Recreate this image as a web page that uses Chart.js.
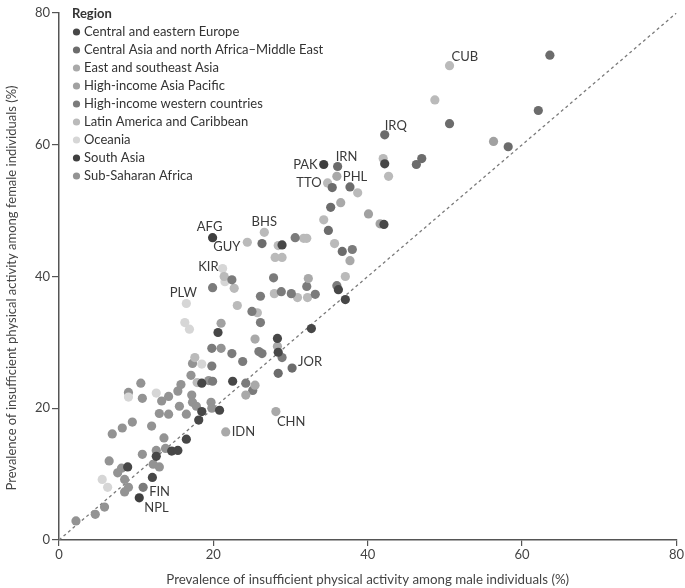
<!DOCTYPE html>
<html>
<head>
<meta charset="utf-8">
<script src="https://cdn.jsdelivr.net/npm/chart.js@4"></script>
<style>
html,body{margin:0;padding:0;background:#fff;}
#wrap{position:relative;width:685px;height:588px;}
</style>
</head>
<body>
<div id="wrap"><canvas id="c" width="685" height="588"></canvas></div>
<script>
// ---- Data (male %, female %) ----
const regionNames = [
  'Central and eastern Europe',
  'Central Asia and north Africa\u2013Middle East',
  'East and southeast Asia',
  'High-income Asia Pacific',
  'High-income western countries',
  'Latin America and Caribbean',
  'Oceania',
  'South Asia',
  'Sub-Saharan Africa'
];
const regionColors = ['#474747','#6c6c6c','#a9a9a9','#a1a1a1','#7b7b7b','#bababa','#d6d6d6','#3f3f3f','#939393'];

const ceeMale   = [42.2,42.1,36.2,37.1,32.7,28.9,20.6,28.3,28.4,22.5,18.5,18.5,20.8,18.1,16.5,14.6,15.4,12.6,12.1,8.9];
const ceeFemale = [57.1,47.9,38.0,36.5,32.1,44.8,31.5,30.6,28.5,24.1,23.8,19.5,19.7,18.2,15.3,13.5,13.6,12.7,9.5,11.1];

const canMale   = [63.6,50.6,62.1,58.2,42.2,46.3,47.0,36.1,35.4,37.7,35.2,34.9,36.7,30.2,26.3,28.4];
const canFemale = [73.6,63.2,65.2,59.7,61.5,57.0,57.9,56.7,53.5,53.6,50.5,47.0,43.8,26.1,45.0,25.3];

const eseaMale   = [36.0,21.6,28.1,36.5,37.7,25.4,24.2,32.3,28.3,25.4];
const eseaFemale = [55.2,16.4,19.5,51.2,42.4,23.5,22.0,39.7,29.4,30.5];

const hiapMale   = [56.3,40.1,41.6,21.0];
const hiapFemale = [60.5,49.5,48.0,32.9];

const hiwMale   = [38.0,30.6,36.0,27.8,32.1,33.2,30.1,28.8,26.1,22.4,19.9,25.0,26.1,25.9,26.3,28.9,23.8,22.4,19.8,24.2,25.1,10.9,19.8,19.9];
const hiwFemale = [44.1,45.9,38.6,39.8,38.5,37.3,37.4,37.7,37.0,39.5,38.3,34.7,33.0,28.6,28.3,27.7,27.1,28.3,29.1,23.8,22.7,8.0,26.4,24.1];

const lacMale   = [50.6,48.7,42.0,42.7,34.8,38.7,34.3,35.7,37.1,26.6,24.4,28.4,31.7,32.1,28.0,28.9,32.2,30.9,27.9,25.7,23.1,21.4,22.7,17.9,17.6];
const lacFemale = [72.0,66.8,57.9,55.2,54.2,52.7,48.6,45.0,40.0,46.7,45.2,44.7,45.8,45.8,42.9,42.9,36.8,36.8,37.4,34.5,35.6,40.0,38.2,23.9,27.7];

const oceMale   = [21.2,16.5,21.5,16.3,16.9,5.6,6.3,12.6,9.0,18.5];
const oceFemale = [41.2,35.9,39.2,33.0,32.0,9.2,8.0,22.3,21.7,26.7];

const saMale   = [19.9,34.3,10.4];
const saFemale = [45.9,57.0,6.4];

const ssaMale   = [17.3,17.1,19.4,15.8,15.4,14.2,13.3,10.6,10.8,9.0,17.2,17.3,17.8,19.7,15.6,16.5,14.2,13.0,9.5,8.2,6.9,12.0,13.6,13.8,12.6,10.8,6.5,12.2,13.0,8.1,7.6,8.5,9.0,8.5,5.9,4.7,2.2,19.8,21.0];
const ssaFemale = [26.8,25.0,24.2,23.6,22.6,21.8,21.1,23.8,21.5,22.4,22.0,20.9,20.3,20.9,20.3,19.1,19.1,19.2,17.9,17.0,16.1,17.3,15.5,13.9,13.6,13.0,12.0,11.5,11.1,10.9,10.2,9.2,8.0,7.3,5.0,3.9,2.9,20.0,29.1];

const maleByRegion   = [ceeMale,canMale,eseaMale,hiapMale,hiwMale,lacMale,oceMale,saMale,ssaMale];
const femaleByRegion = [ceeFemale,canFemale,eseaFemale,hiapFemale,hiwFemale,lacFemale,oceFemale,saFemale,ssaFemale];

// Labelled countries
const labelCodes  = ['CUB','IRQ','IRN','PAK','PHL','TTO','BHS','AFG','GUY','KIR','PLW','JOR','CHN','IDN','FIN','NPL'];
const labelMale   = [50.6,42.2,36.1,34.3,36.0,34.8,26.6,19.9,24.4,21.2,16.5,30.2,28.1,21.6,10.9,10.4];
const labelFemale = [72.0,61.5,56.7,57.0,55.2,54.2,46.7,45.9,45.2,41.2,35.9,26.1,19.5,16.4,8.0,6.4];

const axisTicks = [0,20,40,60,80];
const diagonal = [{x:0,y:0},{x:80,y:80}];

// ---- label placement (style, not data) ----
const labelPlace = {
  CUB:[2,-9,'left'], IRQ:[0,-9,'left'], IRN:[-2,-10,'left'], PAK:[-6,0,'right'],
  PHL:[6,0,'left'], TTO:[-6,0,'right'], BHS:[0,-11,'center'], AFG:[-3,-11,'center'],
  GUY:[-7,5,'right'], KIR:[-4,-2,'right'], PLW:[-3,-11,'center'], JOR:[6,-6,'left'],
  CHN:[1,10,'left'], IDN:[6,0,'left'], FIN:[6,5,'left'], NPL:[5,10,'left']
};

const FONT = "Lato, 'Liberation Sans', sans-serif";
const yTitle = 'Prevalence of insufficient physical activity among female individuals (%)';

const datasets = regionNames.map((name,i)=>({
  type:'scatter',
  label:name,
  data: maleByRegion[i].map((m,j)=>({x:m,y:femaleByRegion[i][j]})),
  backgroundColor: regionColors[i],
  borderWidth:0,
  pointRadius:4.6,
  pointHoverRadius:4.6,
  order:1
}));
datasets.push({
  type:'line',
  label:'diag',
  data:diagonal,
  borderColor:'#7a7a7a',
  borderWidth:1.3,
  borderDash:[3,3],
  pointRadius:0,
  fill:false,
  order:10
});

const overlay = {
  id:'overlay',
  afterDatasetsDraw(chart){
    const ctx = chart.ctx;
    const xs = chart.scales.x, ys = chart.scales.y;
    ctx.save();
    // country labels
    ctx.font = "13px " + FONT;
    ctx.fillStyle = '#3a3a3a';
    ctx.textBaseline = 'middle';
    labelCodes.forEach((code,i)=>{
      const px = xs.getPixelForValue(labelMale[i]);
      const py = ys.getPixelForValue(labelFemale[i]);
      const p = labelPlace[code];
      ctx.textAlign = p[2];
      ctx.fillText(code, px+p[0], py+p[1]);
    });
    // legend
    ctx.textAlign='left';
    ctx.font = "bold 13px " + FONT;
    ctx.fillStyle = '#333';
    ctx.fillText('Region', 72, 14);
    ctx.font = "13px " + FONT;
    regionNames.forEach((n,i)=>{
      const y = 32 + i*18;
      ctx.beginPath();
      ctx.arc(76.5, y, 3.6, 0, Math.PI*2);
      ctx.fillStyle = regionColors[i];
      ctx.fill();
      ctx.fillStyle = '#333';
      ctx.fillText(n, 84, y);
    });
    // y axis title
    ctx.save();
    ctx.translate(12, 288);
    ctx.rotate(-Math.PI/2);
    ctx.textAlign='center';
    ctx.font = "13px " + FONT;
    ctx.fillStyle = '#444';
    ctx.fillText(yTitle, 0, 0);
    ctx.restore();
    ctx.restore();
  }
};

new Chart(document.getElementById('c'), {
  data:{datasets},
  options:{
    responsive:false,
    animation:false,
    events:[],
    layout:{padding:{top:13,right:4,left:0,bottom:0}},
    plugins:{legend:{display:false},tooltip:{enabled:false}},
    scales:{
      x:{
        type:'linear', min:0, max:80,
        afterBuildTicks(s){ s.ticks = axisTicks.map(v=>({value:v})); },
        afterFit(s){ s.height = 48; },
        grid:{display:true, drawOnChartArea:false, drawTicks:true, tickLength:6, color:'#555', lineWidth:1.2},
        border:{display:true, color:'#555', width:1.5},
        ticks:{font:{family:FONT,size:13}, color:'#444', padding:1, maxRotation:0},
        title:{display:true, text:'Prevalence of insufficient physical activity among male individuals (%)', font:{family:FONT,size:13.3}, color:'#444', padding:{top:2,bottom:0}}
      },
      y:{
        type:'linear', min:0, max:80,
        afterBuildTicks(s){ s.ticks = axisTicks.map(v=>({value:v})); },
        afterFit(s){ s.width = 59; },
        grid:{display:true, drawOnChartArea:false, drawTicks:true, tickLength:7, color:'#555', lineWidth:1.2},
        border:{display:true, color:'#555', width:1.5},
        ticks:{font:{family:FONT,size:13}, color:'#444', padding:2},
        title:{display:false}
      }
    }
  },
  plugins:[overlay]
});
</script>
</body>
</html>
